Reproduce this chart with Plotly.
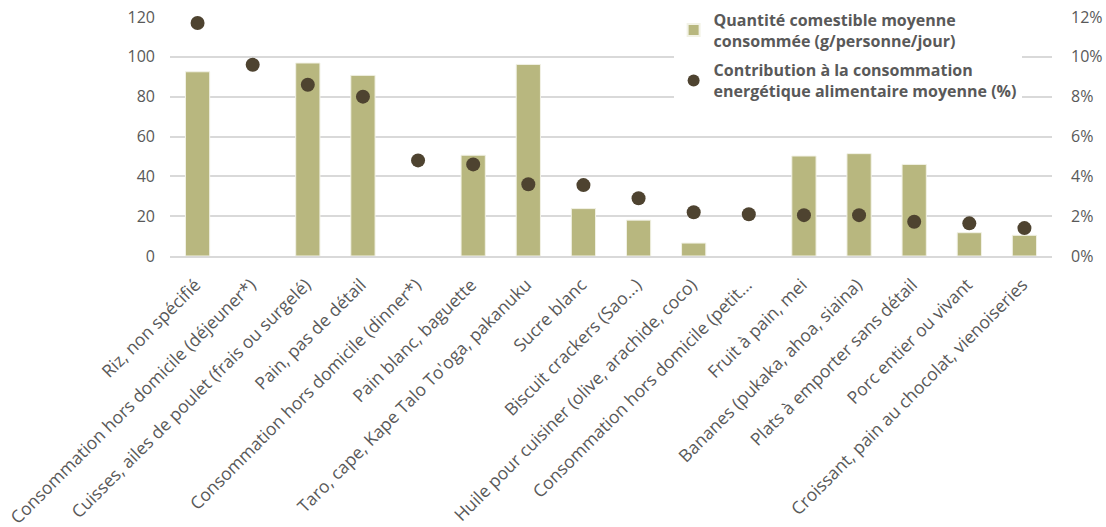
import plotly.graph_objects as go

categories = [
    "Riz, non spécifié",
    "Consommation hors domicile (déjeuner*)",
    "Cuisses, ailes de poulet (frais ou surgelé)",
    "Pain, pas de détail",
    "Consommation hors domicile (dinner*)",
    "Pain blanc, baguette",
    "Taro, cape, Kape Talo To'oga, pakanuku",
    "Sucre blanc",
    "Biscuit crackers (Sao...)",
    "Huile pour cuisiner (olive, arachide, coco)",
    "Consommation hors domicile (petit...",
    "Fruit à pain, mei",
    "Bananes (pukaka, ahoa, siaina)",
    "Plats à emporter sans détail",
    "Porc entier ou vivant",
    "Croissant, pain au chocolat, vienoiseries",
]
quantite = [92.5, None, 96.9, 90.7, None, 50.6, 96.2, 23.8, 18.0, 6.5, None, 50.2, 51.4, 46.0, 11.7, 10.4]
contribution = [0.117, 0.096, 0.086, 0.080, 0.048, 0.046, 0.036, 0.0356, 0.029, 0.022, 0.021, 0.0205, 0.0205, 0.0172, 0.0164, 0.014]

left_ticks = [0, 20, 40, 60, 80, 100, 120]
right_ticks = [0, 0.02, 0.04, 0.06, 0.08, 0.10, 0.12]

name_bar = "Quantité comestible moyenne<br>consommée (g/personne/jour)"
name_dot = "Contribution à la consommation<br>energétique alimentaire moyenne (%)"

font_fam = "Open Sans, Noto Sans, sans-serif"
gray = "#595959"

fig = go.Figure()
fig.add_trace(go.Bar(
    x=categories, y=quantite, name=name_bar, legendgroup="a",
    marker=dict(color="#B8B77F", line=dict(color="#F2F2E6", width=1)),
    yaxis="y",
))
fig.add_trace(go.Scatter(
    x=categories, y=contribution, name=name_dot, mode="markers", legendgroup="b",
    marker=dict(color="#4E4330", size=14),
    yaxis="y2", cliponaxis=False,
))

fig.update_layout(
    width=1106, height=527,
    margin=dict(l=170, r=54, t=17, b=271, autoexpand=False),
    paper_bgcolor="white", plot_bgcolor="white",
    font=dict(family=font_fam, color=gray, size=16),
    bargap=0.56,
    showlegend=True,
    legend=dict(
        x=0.571, y=1.06, xanchor="left", yanchor="top",
        bgcolor="white",
        font=dict(family=font_fam, size=16, color=gray, weight="bold"),
        itemsizing="constant",
        tracegroupgap=6,
    ),
    xaxis=dict(
        range=[-0.5, len(categories) - 0.5],
        tickangle=-45, showgrid=False, showline=True, linecolor="#D9D9D9", linewidth=1.5,
        tickfont=dict(size=17.5, color=gray), ticks="", automargin=False,
        ticklabelstandoff=10, ticklabelshift=-2,
    ),
    yaxis=dict(
        range=[0, 120], tickvals=left_ticks, showgrid=True, gridcolor="#D9D9D9", gridwidth=1.5,
        zeroline=False, showline=False, tickfont=dict(size=16, color=gray),
        ticklabelstandoff=14, automargin=False, ticklabeloverflow="allow",
    ),
    yaxis2=dict(
        range=[0, 0.12], tickvals=right_ticks, tickformat=".0%", overlaying="y", side="right",
        showgrid=False, zeroline=False, showline=False, tickfont=dict(size=16, color=gray),
        ticklabelstandoff=18, automargin=False, ticklabeloverflow="allow",
    ),
)

fig.write_html(
    "out.html",
    config={"displayModeBar": False},
    post_script="document.body.style.margin='0';document.body.style.overflow='hidden';",
)
